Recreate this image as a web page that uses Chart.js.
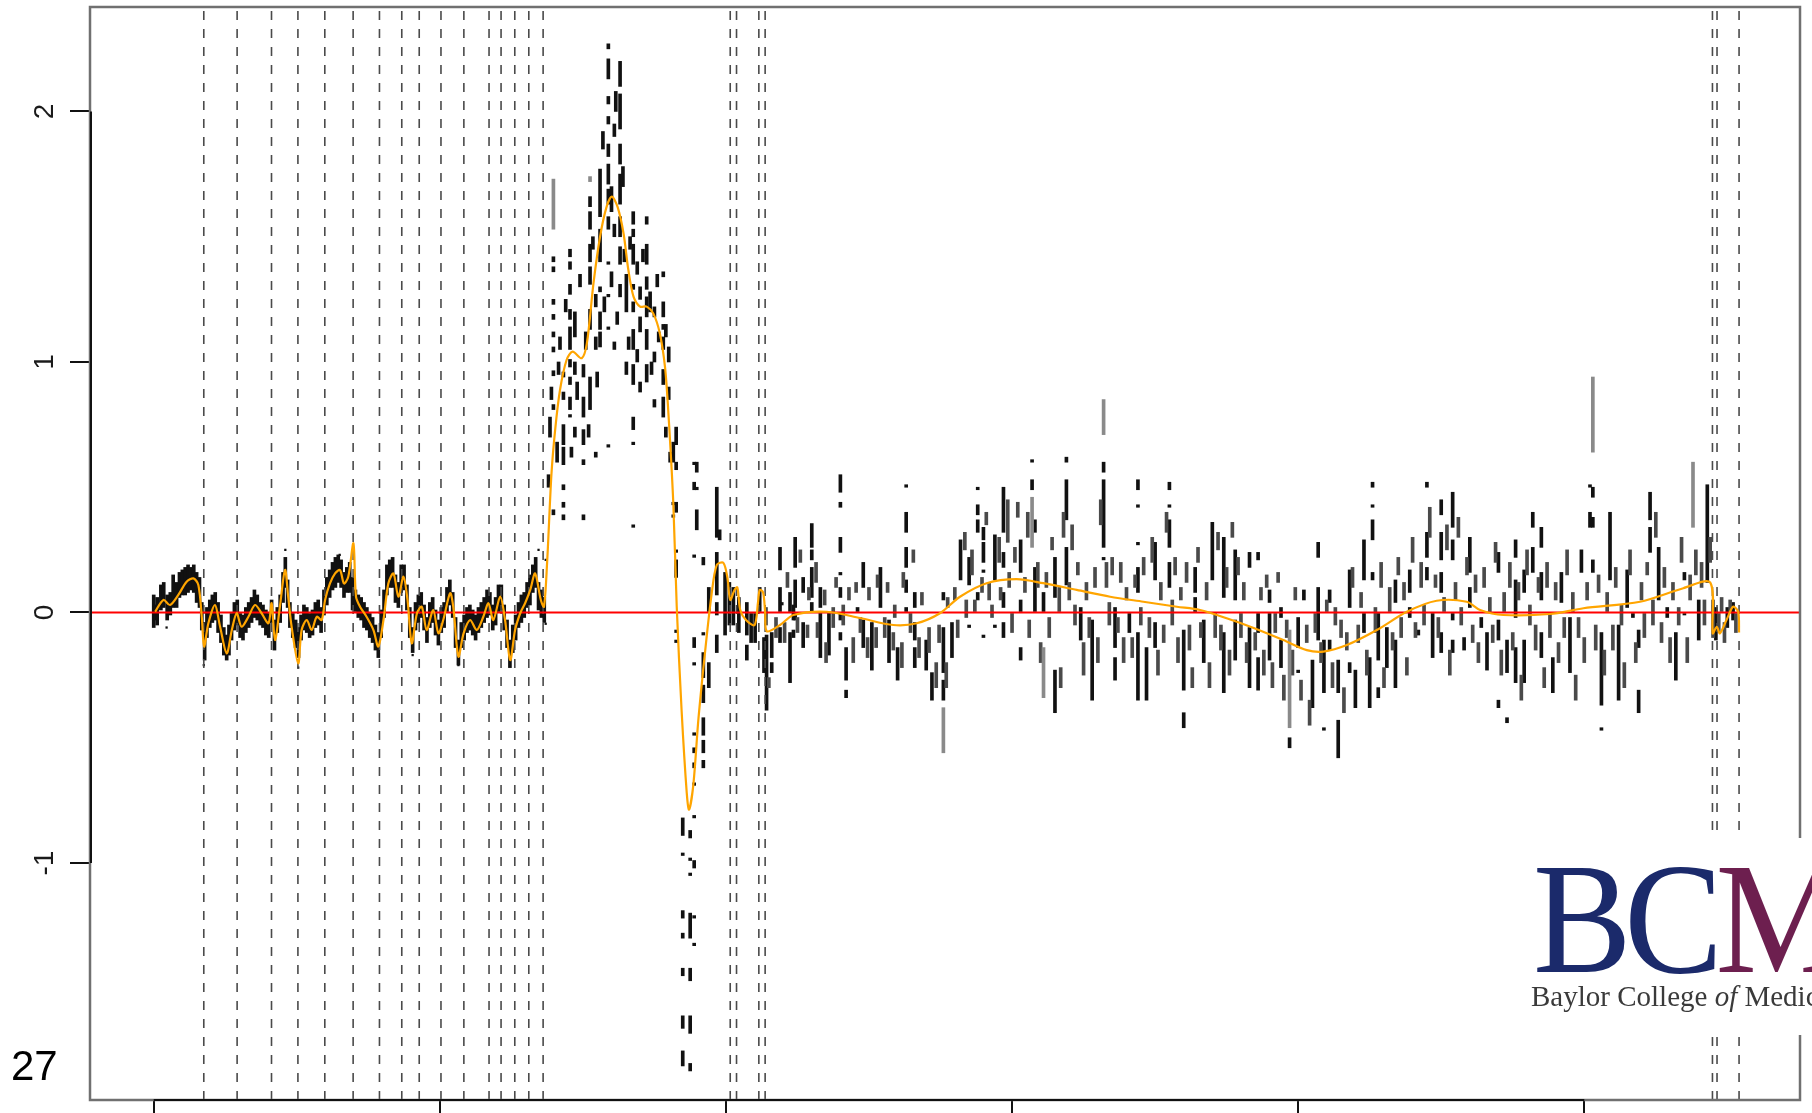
<!DOCTYPE html>
<html>
<head>
<meta charset="utf-8">
<script src="https://cdn.jsdelivr.net/npm/chart.js@4.4.1/dist/chart.umd.min.js"></script>
<style>
  html, body { margin: 0; padding: 0; background: #fff; overflow: hidden; }
  canvas { display: block; }
</style>
</head>
<body>
<canvas id="chart" width="1812" height="1113"></canvas>
<script>
// axis setup (x labels are cut off in the original, only tick marks remain)
const xTicks = [0, 1, 2, 3, 4, 5];
const yTicks = [-1, 0, 1, 2];
const xRange = [-0.2227, 5.754];
const yRange = [-1.946, 2.417];
const sideLabel = '27';

// segment boundaries (dashed lines)
const breaks = [0.175, 0.2915, 0.4117, 0.504, 0.598, 0.697, 0.789, 0.867, 0.928, 1.004,
  1.084, 1.172, 1.214, 1.262, 1.311, 1.361, 2.015, 2.037, 2.115, 2.137, 5.448, 5.464, 5.541];

// smoothed fit (orange)
const smoothFit = [
  [0.005,0.003],[0.034,0.05],[0.057,0.03],[0.086,0.07],[0.115,0.123],[0.139,0.136],[0.156,0.11],[0.168,-0.017],
  [0.176,-0.136],[0.191,-0.043],[0.214,0.03],[0.232,-0.057],[0.255,-0.163],[0.273,-0.07],[0.29,-0.003],[0.307,-0.057],
  [0.331,-0.017],[0.354,0.03],[0.377,-0.003],[0.401,-0.043],[0.412,0.037],[0.424,-0.11],[0.441,0.023],[0.459,0.17],
  [0.47,0.063],[0.482,-0.057],[0.505,-0.203],[0.517,-0.07],[0.535,-0.03],[0.552,-0.07],[0.57,-0.017],[0.587,-0.03],
  [0.599,0.05],[0.616,0.116],[0.634,0.156],[0.651,0.17],[0.665,0.116],[0.68,0.143],[0.698,0.276],[0.707,0.063],
  [0.721,0.023],[0.744,-0.017],[0.768,-0.07],[0.785,-0.136],[0.803,-0.03],[0.82,0.116],[0.838,0.156],[0.855,0.063],
  [0.873,0.143],[0.887,0.05],[0.902,-0.123],[0.92,-0.003],[0.937,0.023],[0.954,-0.07],[0.977,0.01],[0.995,-0.083],
  [1.012,-0.03],[1.036,0.077],[1.047,0.023],[1.065,-0.176],[1.083,-0.083],[1.106,-0.03],[1.129,-0.07],[1.152,-0.017],
  [1.17,0.037],[1.187,-0.03],[1.211,0.063],[1.228,-0.03],[1.246,-0.19],[1.263,-0.07],[1.281,-0.003],[1.298,0.037],
  [1.316,0.09],[1.333,0.156],[1.353,0.05],[1.364,0.023],
  [1.375,0.2],[1.39,0.55],[1.403,0.728],[1.42,0.888],[1.443,1.008],[1.464,1.041],[1.496,1.015],[1.514,1.075],
  [1.537,1.314],[1.56,1.5],[1.583,1.62],[1.601,1.66],[1.621,1.62],[1.642,1.514],[1.659,1.367],[1.677,1.261],
  [1.7,1.221],[1.723,1.221],[1.746,1.194],[1.769,1.114],[1.787,0.98],[1.799,0.794],[1.816,0.437],[1.828,0.024],
  [1.845,-0.39],[1.863,-0.72],[1.871,-0.787],[1.886,-0.688],[1.904,-0.423],[1.927,-0.158],[1.95,0.074],[1.968,0.19],
  [1.991,0.198],[2.005,0.14],[2.015,0.05],[2.03,0.09],[2.04,0.1],[2.05,0.01],[2.07,-0.03],[2.1,-0.05],
  [2.112,0.04],[2.118,0.09],[2.13,0.08],[2.137,0.0],[2.143,-0.075],
  [2.189,-0.05],[2.236,-0.01],[2.352,0.003],[2.469,-0.022],[2.585,-0.05],[2.667,-0.043],[2.748,-0.003],[2.818,0.063],
  [2.911,0.117],[3.016,0.133],[3.109,0.117],[3.226,0.09],[3.343,0.063],[3.459,0.043],[3.576,0.023],[3.657,0.01],
  [3.75,-0.023],[3.84,-0.06],[3.948,-0.11],[4.03,-0.15],[4.088,-0.156],[4.17,-0.13],[4.275,-0.07],[4.38,0.003],
  [4.484,0.047],[4.589,0.043],[4.636,0.01],[4.717,-0.01],[4.88,-0.006],[4.997,0.017],[5.195,0.043],[5.346,0.097],
  [5.44,0.12],[5.449,-0.083],[5.463,-0.057],[5.474,-0.083],[5.497,-0.03],[5.52,0.023],[5.538,0.003],[5.541,-0.08]
];

// probe clusters: [position, low, high]
const leftStreaks = [
  [0.000,-0.06,0.07],[0.006,-0.03,0.03],[0.012,-0.05,0.06],[0.025,0.01,0.11],[0.035,0.02,0.12],[0.047,-0.03,0.07],
  [0.058,-0.01,0.08],[0.068,0.02,0.15],[0.08,0.02,0.12],[0.09,0.06,0.16],[0.10,0.07,0.17],[0.11,0.07,0.18],
  [0.12,0.08,0.19],[0.13,0.09,0.18],[0.14,0.08,0.19],[0.15,0.04,0.16],[0.16,0.02,0.14],[0.168,-0.07,0.04],
  [0.178,-0.19,-0.04],[0.186,-0.10,0.02],[0.196,-0.06,0.05],[0.205,-0.04,0.07],[0.215,-0.03,0.08],[0.225,-0.08,0.04],
  [0.235,-0.12,-0.01],[0.245,-0.17,-0.06],[0.255,-0.19,-0.09],[0.263,-0.17,-0.05],[0.272,-0.11,0.0],[0.282,-0.07,0.04],
  [0.292,-0.05,0.05],[0.302,-0.10,0.0],[0.312,-0.11,-0.01],[0.322,-0.08,0.02],[0.332,-0.06,0.04],[0.342,-0.04,0.06],
  [0.352,-0.02,0.09],[0.362,-0.03,0.07],[0.372,-0.05,0.04],[0.382,-0.06,0.03],[0.392,-0.09,0.01],[0.402,-0.10,0.0],
  [0.412,-0.04,0.05],[0.422,-0.15,-0.03],[0.432,-0.08,0.02],[0.442,-0.04,0.07],[0.452,0.04,0.16],[0.46,0.10,0.22],
  [0.468,0.02,0.13],[0.476,-0.06,0.04],[0.486,-0.10,0.0],[0.496,-0.14,-0.03],[0.506,-0.18,-0.06],[0.515,-0.11,-0.01],
  [0.525,-0.07,0.03],[0.535,-0.08,0.02],[0.545,-0.10,0.0],[0.555,-0.09,0.01],[0.565,-0.06,0.04],[0.575,-0.05,0.05],
  [0.585,-0.08,0.02],[0.595,-0.01,0.09],[0.605,0.03,0.14],[0.615,0.06,0.17],[0.625,0.09,0.20],[0.635,0.10,0.22],
  [0.645,0.12,0.23],[0.655,0.10,0.21],[0.665,0.06,0.16],[0.675,0.08,0.18],[0.685,0.08,0.20],[0.695,0.01,0.14],
  [0.705,0.0,0.09],[0.715,-0.02,0.07],[0.725,-0.03,0.06],[0.735,-0.06,0.04],[0.745,-0.07,0.02],[0.755,-0.10,0.0],
  [0.765,-0.12,-0.02],[0.775,-0.15,-0.05],[0.785,-0.18,-0.08],[0.795,-0.10,0.01],[0.805,-0.02,0.09],[0.815,0.07,0.19],
  [0.825,0.10,0.21],[0.835,0.10,0.22],[0.845,0.04,0.15],[0.855,0.02,0.12],[0.865,0.08,0.19],[0.875,0.09,0.19],
  [0.885,0.01,0.11],[0.895,-0.10,0.02],[0.905,-0.16,-0.06],[0.915,-0.07,0.04],[0.925,-0.04,0.07],[0.935,-0.02,0.08],
  [0.945,-0.07,0.03],[0.955,-0.12,-0.02],[0.965,-0.06,0.04],[0.975,-0.04,0.06],[0.985,-0.09,0.01],[0.995,-0.13,-0.03],
  [1.005,-0.08,0.02],[1.015,-0.06,0.04],[1.025,0.0,0.10],[1.035,0.03,0.13],[1.045,-0.02,0.08],[1.055,-0.14,-0.02],
  [1.065,-0.21,-0.11],[1.075,-0.14,-0.04],[1.085,-0.11,-0.01],[1.095,-0.08,0.02],[1.105,-0.07,0.03],[1.115,-0.09,0.01],
  [1.125,-0.11,-0.01],[1.135,-0.08,0.02],[1.145,-0.06,0.04],[1.155,-0.04,0.06],[1.165,-0.02,0.09],[1.175,-0.01,0.08],
  [1.185,-0.07,0.03],[1.195,-0.05,0.06],[1.205,0.0,0.11],[1.215,0.01,0.11],[1.225,-0.07,0.03],[1.235,-0.14,-0.03],
  [1.245,-0.22,-0.11],[1.255,-0.16,-0.05],[1.265,-0.11,-0.01],[1.275,-0.06,0.04],[1.285,-0.04,0.07],[1.295,-0.02,0.08],
  [1.305,0.02,0.12],[1.315,0.03,0.15],[1.325,0.08,0.19],[1.335,0.10,0.22],[1.345,0.01,0.12],[1.355,-0.02,0.09],
  [1.365,-0.04,0.06]
];

const peakStreaks = [
  [1.38,0.5,0.55],[1.385,0.7,0.78],[1.39,0.85,0.9],
  [1.397,1.40,1.42],[1.397,1.36,1.38],[1.397,1.23,1.25],[1.397,1.17,1.19],[1.397,1.10,1.12],[1.397,1.04,1.06],
  [1.397,0.945,0.965],[1.397,0.81,0.83],[1.397,0.39,0.41],
  [1.41,0.6,0.68],[1.415,0.95,1.0],[1.42,1.05,1.1],
  [1.432,0.94,0.96],[1.432,0.85,0.88],[1.432,0.67,0.75],[1.432,0.59,0.66],[1.432,0.49,0.51],[1.432,0.42,0.44],[1.432,0.37,0.39],
  [1.44,1.2,1.25],
  [1.455,1.42,1.45],[1.455,1.37,1.40],[1.455,1.27,1.31],[1.455,1.17,1.21],[1.455,1.05,1.14],[1.455,0.98,1.01],
  [1.455,0.91,0.94],[1.455,0.81,0.86],[1.455,0.78,0.79],
  [1.46,0.62,0.66],[1.472,1.10,1.20],[1.472,0.95,1.0],[1.472,0.7,0.74],[1.48,0.85,0.92],[1.49,1.3,1.35],
  [1.502,0.94,0.99],[1.502,0.78,0.86],[1.502,0.67,0.73],[1.502,0.59,0.61],[1.502,0.37,0.39],
  [1.51,1.05,1.12],[1.52,0.7,0.75],
  [1.525,1.62,1.66],[1.525,1.53,1.60],[1.525,1.40,1.47],[1.525,1.31,1.38],[1.525,1.13,1.21],[1.525,0.81,0.94],
  [1.535,1.45,1.5],[1.545,1.22,1.27],[1.545,1.05,1.1],[1.545,0.62,0.64],[1.55,0.9,0.96],
  [1.56,1.58,1.77],[1.56,1.40,1.53],[1.56,1.28,1.30],[1.56,1.13,1.20],[1.56,1.06,1.12],
  [1.57,1.85,1.92],[1.575,1.2,1.26],
  [1.589,2.25,2.27],[1.589,2.13,2.21],[1.589,2.03,2.06],[1.589,1.95,1.98],[1.589,1.82,1.87],[1.589,1.71,1.79],
  [1.589,1.63,1.69],[1.589,1.53,1.58],[1.589,1.39,1.40],[1.589,1.26,1.27],[1.589,1.13,1.14],[1.589,0.66,0.67],
  [1.6,1.6,1.7],[1.6,1.3,1.36],
  [1.61,1.9,1.95],[1.61,1.5,1.55],[1.61,1.05,1.08],[1.615,2.0,2.08],[1.62,1.15,1.2],
  [1.63,2.10,2.20],[1.63,1.93,2.07],[1.63,1.79,1.87],[1.63,1.63,1.75],[1.63,1.50,1.58],[1.63,1.39,1.46],[1.63,1.26,1.31],
  [1.64,1.7,1.78],[1.645,1.4,1.45],[1.652,1.2,1.35],[1.652,0.95,1.0],[1.66,1.05,1.1],[1.665,1.45,1.5],
  [1.676,1.55,1.60],[1.676,1.50,1.53],[1.676,1.39,1.47],[1.676,1.29,1.31],[1.676,1.20,1.24],[1.676,1.05,1.13],
  [1.676,0.91,0.99],[1.676,0.73,0.78],[1.676,0.67,0.68],[1.676,0.34,0.35],
  [1.69,1.35,1.4],[1.69,1.0,1.05],
  [1.70,1.25,1.3],[1.70,1.12,1.18],[1.70,0.88,0.92],[1.71,1.4,1.45],
  [1.723,1.55,1.58],[1.723,1.39,1.47],[1.723,1.29,1.34],[1.723,1.18,1.26],[1.723,1.05,1.13],[1.723,0.92,0.99],
  [1.735,1.2,1.28],[1.74,0.95,1.0],
  [1.75,1.18,1.22],[1.75,1.0,1.04],[1.75,0.82,0.85],[1.76,1.3,1.35],[1.765,1.08,1.12],
  [1.781,1.34,1.36],[1.781,1.18,1.24],[1.781,1.13,1.15],[1.781,1.05,1.10],[1.781,0.91,0.97],[1.781,0.78,0.86],
  [1.79,1.1,1.15],[1.79,0.7,0.74],
  [1.80,1.0,1.06],[1.80,0.85,0.9],[1.805,0.6,0.64],
  [1.816,0.60,0.68],[1.816,0.43,0.44],[1.816,0.38,0.39],
  [1.826,0.67,0.74],[1.826,0.57,0.60],[1.826,0.40,0.44],[1.826,0.24,0.25],[1.826,0.14,0.21],[1.826,-0.08,-0.07],[1.826,-0.12,-0.11],
  [1.849,-0.89,-0.82],[1.849,-0.97,-0.96],[1.849,-1.22,-1.19],[1.849,-1.30,-1.28],[1.849,-1.45,-1.42],[1.849,-1.66,-1.61],[1.849,-1.81,-1.75],
  [1.875,-0.90,-0.87],[1.875,-0.99,-0.98],[1.875,-1.05,-1.04],[1.875,-1.30,-1.20],[1.875,-1.47,-1.42],[1.875,-1.68,-1.61],[1.875,-1.83,-1.80],
  [1.889,0.59,0.60],[1.889,0.49,0.52],[1.889,0.22,0.23],[1.889,-0.14,-0.10],[1.889,-0.21,-0.20],[1.889,-0.49,-0.48],
  [1.889,-0.56,-0.54],[1.889,-0.62,-0.60],[1.889,-0.69,-0.68],[1.889,-0.82,-0.81],[1.889,-1.02,-0.99],[1.889,-1.22,-1.21],[1.889,-1.33,-1.32],
  [1.898,0.56,0.60],[1.898,0.49,0.50],[1.898,0.33,0.41],
  [1.921,0.19,0.22],[1.921,-0.09,-0.08],[1.921,-0.26,-0.16],[1.921,-0.36,-0.29],[1.921,-0.49,-0.42],[1.921,-0.56,-0.51],[1.921,-0.62,-0.59],
  [1.94,-0.3,-0.2],[1.94,0.0,0.1],
  [1.968,0.30,0.50],[1.968,0.07,0.24],[1.968,-0.01,0.04],[1.968,-0.16,-0.09],[1.978,0.29,0.33],
  [1.997,-0.09,0.16],[2.012,-0.05,0.12],[2.026,-0.05,0.10],[2.045,-0.08,0.06],
  [2.073,-0.09,0.04],[2.073,-0.19,-0.13],[2.088,-0.12,0.0],[2.102,-0.12,0.0],[2.118,0.0,0.1],
  [2.142,-0.39,-0.09],[2.189,0.17,0.26],[2.189,0.0,0.10],[2.189,-0.12,-0.06],[2.236,-0.03,0.03],[2.236,-0.10,-0.07]
];

const rightStreaks = [
  [2.133,-0.24,-0.10],[2.16,-0.18,-0.08],[2.16,-0.24,-0.2],[2.195,0.03,0.04],[2.224,0.0,0.08],[2.224,-0.28,-0.08],
  [2.242,0.18,0.3],[2.242,0.02,0.13],[2.242,-0.03,0.0],[2.27,0.08,0.14],[2.27,-0.14,-0.04],
  [2.3,0.26,0.355],[2.3,0.21,0.25],[2.3,0.06,0.18],[2.3,0.0,0.04],[2.33,0.02,0.10],[2.33,-0.18,0.0],[2.36,-0.17,0.0],
  [2.4,0.48,0.55],[2.4,0.42,0.44],[2.4,0.24,0.30],[2.4,0.15,0.16],[2.4,0.06,0.10],[2.4,-0.03,0.0],[2.4,-0.11,-0.08],
  [2.42,-0.27,-0.14],[2.42,-0.34,-0.31],[2.46,0.0,0.02],[2.48,0.10,0.20],[2.48,-0.14,-0.03],[2.51,-0.23,-0.04],
  [2.54,0.02,0.18],[2.57,-0.20,-0.03],[2.6,-0.27,-0.14],
  [2.63,0.50,0.51],[2.63,0.32,0.40],[2.63,0.18,0.26],[2.63,0.08,0.13],[2.63,0.0,0.02],
  [2.66,0.02,0.08],[2.66,-0.11,-0.04],[2.66,-0.22,-0.14],[2.7,-0.23,-0.11],[2.72,-0.35,-0.24],
  [2.76,0.05,0.08],[2.76,-0.24,-0.06],[2.76,-0.35,-0.27],[2.79,-0.18,-0.04],[2.82,0.13,0.29],[2.85,0.11,0.22],[2.85,-0.06,-0.05],
  [2.88,0.49,0.50],[2.88,0.39,0.43],[2.88,0.32,0.37],[2.88,0.05,0.08],
  [2.9,0.29,0.34],[2.9,0.2,0.28],[2.9,0.16,0.17],[2.9,-0.1,-0.09],[2.94,0.13,0.31],[2.94,-0.06,-0.05],
  [2.97,0.32,0.50],[2.97,0.18,0.24],[2.97,0.02,0.08],[2.97,-0.1,-0.04],
  [3.03,0.16,0.29],[3.03,0.0,0.05],[3.03,-0.19,-0.14],[3.07,0.6,0.61],[3.07,0.49,0.53],
  [3.08,0.32,0.37],[3.08,0.0,0.18],[3.11,0.0,0.08],[3.15,0.06,0.22],[3.15,-0.4,-0.23],
  [3.19,0.6,0.62],[3.19,0.37,0.53],[3.19,0.11,0.26],[3.24,-0.11,0.02],[3.28,-0.35,-0.03],
  [3.32,0.56,0.6],[3.32,0.26,0.53],[3.32,0.21,0.22],[3.36,-0.14,0.02],[3.36,-0.27,-0.18],[3.41,-0.08,0.0],
  [3.44,0.49,0.53],[3.44,0.42,0.43],[3.44,0.27,0.28],[3.44,0.08,0.18],[3.44,-0.35,-0.08],[3.47,-0.35,-0.14],
  [3.5,0.13,0.28],[3.5,-0.14,-0.04],[3.55,0.49,0.52],[3.55,0.42,0.43],[3.55,0.26,0.37],[3.55,0.10,0.2],
  [3.6,-0.31,-0.07],[3.6,-0.46,-0.4],[3.64,0.08,0.18],[3.64,0.0,0.06],[3.67,-0.2,-0.03],[3.7,0.13,0.36],
  [3.74,0.06,0.30],[3.74,-0.32,-0.08],[3.78,0.05,0.25],[3.78,-0.19,-0.03],[3.83,0.18,0.24],[3.83,-0.30,-0.06],
  [3.86,0.21,0.24],[3.86,-0.08,0.0],[3.86,-0.31,-0.18],[3.9,0.04,0.09],[3.9,-0.19,0.0],[3.94,-0.02,0.02],[3.94,-0.22,-0.11],
  [3.97,-0.54,-0.5],[4.0,-0.14,-0.02],[4.0,-0.24,-0.23],[4.02,0.05,0.09],[4.05,-0.38,-0.19],
  [4.07,0.22,0.28],[4.07,-0.11,0.1],[4.09,-0.32,-0.11],[4.09,-0.47,-0.46],[4.11,0.04,0.09],[4.11,-0.15,-0.11],
  [4.14,-0.32,-0.19],[4.14,-0.58,-0.43],[4.18,0.02,0.17],[4.18,-0.24,-0.2],[4.2,-0.38,-0.23],
  [4.23,0.13,0.29],[4.23,-0.08,0.0],[4.25,-0.38,-0.18],[4.26,0.50,0.52],[4.26,0.42,0.43],[4.26,0.29,0.37],[4.26,0.13,0.16],
  [4.28,-0.19,0.0],[4.28,-0.34,-0.30],[4.31,-0.22,-0.06],[4.34,0.04,0.13],[4.34,-0.3,-0.11],
  [4.39,0.08,0.17],[4.39,-0.02,0.02],[4.42,-0.09,-0.07],[4.45,0.5,0.52],[4.45,0.22,0.32],[4.45,0.13,0.18],[4.47,-0.18,0.0],
  [4.5,0.39,0.45],[4.5,0.21,0.32],[4.5,0.08,0.16],[4.5,-0.16,-0.08],
  [4.54,0.34,0.48],[4.54,0.21,0.29],[4.54,-0.03,0.0],[4.54,-0.16,-0.11],[4.58,-0.15,-0.1],
  [4.6,0.16,0.3],[4.6,0.02,0.10],[4.64,-0.06,-0.02],[4.66,-0.23,-0.08],
  [4.7,0.16,0.24],[4.7,-0.11,-0.03],[4.7,-0.38,-0.35],[4.73,-0.24,-0.11],[4.73,-0.44,-0.42],
  [4.76,0.22,0.29],[4.76,-0.02,0.13],[4.76,-0.28,-0.14],[4.79,0.08,0.17],[4.79,-0.28,-0.11],
  [4.82,0.34,0.4],[4.82,0.16,0.26],[4.85,0.26,0.34],[4.85,0.05,0.16],[4.85,-0.18,-0.08],[4.89,-0.32,-0.18],
  [4.92,0.04,0.16],[4.95,-0.24,-0.02],[4.99,0.16,0.25],[5.02,0.5,0.51],[5.02,0.34,0.4],
  [5.03,0.46,0.5],[5.03,0.34,0.38],[5.03,0.16,0.21],[5.06,-0.37,-0.08],[5.06,-0.47,-0.46],
  [5.09,0.13,0.4],[5.12,-0.35,-0.05],[5.15,0.02,0.17],[5.17,-0.02,0.0],[5.19,-0.14,-0.07],[5.19,-0.4,-0.31],
  [5.23,0.37,0.48],[5.23,0.24,0.34],[5.26,0.05,0.26],[5.29,-0.02,0.02],[5.32,-0.27,-0.08],
  [5.35,0.13,0.16],[5.35,-0.01,0.0],[5.4,-0.11,0.05],[5.43,0.12,0.51],[5.46,-0.11,0.02],[5.5,-0.06,0.02],[5.52,-0.03,0.04]
];

// the denser cloud between the main columns
const rightCloud = [
  [2.14,-0.05,0.02],[2.15,-0.3,-0.26],[2.175,-0.1,-0.02],[2.205,-0.12,-0.04],[2.215,0.1,0.16],[2.25,-0.08,-0.02],
  [2.26,0.2,0.25],[2.285,-0.1,-0.05],[2.29,0.05,0.1],[2.315,0.12,0.2],[2.32,-0.1,-0.04],[2.345,0.03,0.09],
  [2.35,-0.2,-0.12],[2.375,-0.06,0.02],[2.385,0.1,0.14],[2.41,-0.05,0.03],[2.43,0.05,0.1],[2.445,-0.2,-0.1],
  [2.455,0.08,0.12],[2.47,-0.08,-0.02],[2.495,-0.18,-0.1],[2.5,0.05,0.1],[2.525,-0.14,-0.06],[2.53,0.1,0.15],
  [2.555,-0.1,-0.02],[2.565,0.08,0.12],[2.585,-0.15,-0.08],[2.59,-0.02,0.03],[2.615,-0.22,-0.12],[2.62,0.1,0.16],
  [2.645,-0.08,0.0],[2.655,0.2,0.25],[2.675,-0.18,-0.1],[2.685,0.03,0.08],[2.71,-0.16,-0.06],[2.735,-0.3,-0.2],
  [2.745,-0.12,-0.05],[2.77,-0.3,-0.2],[2.775,0.02,0.06],[2.8,0.05,0.1],[2.81,-0.1,-0.03],[2.835,0.25,0.32],
  [2.84,-0.02,0.05],[2.86,0.15,0.25],[2.87,0.0,0.05],[2.895,0.08,0.14],[2.91,0.35,0.4],[2.92,0.05,0.12],
  [2.93,-0.02,0.03],[2.955,0.2,0.3],[2.96,0.05,0.1],[2.985,0.28,0.45],[2.99,0.1,0.16],[3.0,-0.08,0.0],
  [3.01,0.2,0.26],[3.02,0.38,0.44],[3.045,0.08,0.14],[3.055,0.3,0.4],[3.06,-0.1,-0.03],[3.09,0.1,0.2],
  [3.1,-0.2,-0.12],[3.12,0.1,0.16],[3.13,-0.1,-0.02],[3.14,0.25,0.3],[3.165,0.0,0.1],[3.17,-0.3,-0.22],
  [3.18,0.3,0.4],[3.2,0.05,0.12],[3.21,0.25,0.35],[3.22,-0.05,0.03],[3.23,0.15,0.2],[3.25,-0.25,-0.12],
  [3.26,0.05,0.12],[3.27,-0.1,-0.02],[3.29,0.1,0.18],[3.3,-0.2,-0.1],[3.31,0.35,0.45],[3.33,0.1,0.2],
  [3.34,-0.05,0.04],[3.35,0.15,0.22],[3.37,-0.08,-0.02],[3.38,0.12,0.2],[3.39,-0.2,-0.1],[3.4,0.05,0.1],
  [3.42,-0.18,-0.1],[3.43,0.1,0.15],[3.45,-0.05,0.02],[3.46,0.15,0.22],[3.48,-0.1,-0.02],[3.49,0.2,0.3],
  [3.51,-0.25,-0.15],[3.52,0.05,0.12],[3.53,-0.12,-0.05],[3.54,0.32,0.4],[3.56,-0.05,0.05],[3.57,0.15,0.22],
  [3.58,-0.2,-0.1],[3.59,0.05,0.1],[3.61,0.12,0.2],[3.62,-0.15,-0.05],[3.63,-0.3,-0.22],[3.65,0.2,0.26],
  [3.66,-0.1,-0.04],[3.68,0.05,0.12],[3.69,-0.3,-0.2],[3.71,-0.1,0.0],[3.72,0.25,0.32],[3.73,-0.15,-0.05],
  [3.75,0.1,0.18],[3.76,-0.25,-0.15],[3.77,0.3,0.36],[3.79,0.15,0.22],[3.8,-0.1,0.0],[3.81,0.05,0.12],
  [3.82,-0.2,-0.12],[3.85,-0.15,-0.08],[3.87,0.05,0.1],[3.88,-0.25,-0.15],[3.89,0.1,0.15],[3.91,-0.3,-0.2],
  [3.92,-0.08,0.0],[3.93,0.12,0.16],[3.95,-0.35,-0.25],[3.96,-0.1,-0.03],[3.98,-0.25,-0.15],[3.99,0.05,0.1],
  [4.01,-0.35,-0.27],[4.03,-0.12,-0.05],[4.04,-0.45,-0.35],[4.06,-0.08,0.0],[4.08,-0.2,-0.12],[4.1,0.0,0.05],
  [4.12,-0.3,-0.2],[4.13,-0.05,0.02],[4.15,-0.1,-0.03],[4.16,-0.4,-0.3],[4.17,-0.15,-0.08],[4.19,0.1,0.18],
  [4.21,-0.12,-0.05],[4.22,0.02,0.08],[4.24,-0.25,-0.15],[4.27,-0.08,0.02],[4.29,0.1,0.2],[4.3,-0.3,-0.22],
  [4.32,0.0,0.1],[4.33,-0.15,-0.08],[4.35,0.15,0.22],[4.36,-0.1,-0.02],[4.37,0.05,0.12],[4.38,-0.25,-0.18],
  [4.4,0.2,0.3],[4.41,-0.1,-0.04],[4.43,0.1,0.2],[4.44,-0.05,0.03],[4.46,0.3,0.42],[4.48,0.1,0.15],
  [4.49,-0.1,-0.02],[4.51,0.0,0.06],[4.52,0.25,0.35],[4.53,-0.25,-0.15],[4.55,0.05,0.12],[4.56,0.3,0.38],
  [4.57,-0.05,0.02],[4.59,0.15,0.22],[4.61,-0.12,-0.05],[4.62,0.08,0.15],[4.63,-0.2,-0.12],[4.65,0.1,0.18],
  [4.67,0.0,0.06],[4.68,-0.12,-0.05],[4.69,0.2,0.28],[4.71,-0.25,-0.15],[4.72,0.0,0.08],[4.74,0.1,0.2],
  [4.75,-0.15,-0.08],[4.77,0.05,0.12],[4.78,-0.35,-0.25],[4.8,0.15,0.25],[4.81,-0.05,0.03],[4.83,-0.15,-0.05],
  [4.84,0.08,0.14],[4.86,-0.3,-0.22],[4.87,0.1,0.2],[4.88,-0.1,0.0],[4.9,0.05,0.12],[4.91,-0.2,-0.12],
  [4.93,-0.1,-0.02],[4.94,0.15,0.25],[4.96,0.0,0.08],[4.97,-0.35,-0.25],[4.98,-0.1,-0.02],[5.0,-0.2,-0.1],
  [5.01,0.05,0.12],[5.04,-0.15,-0.05],[5.05,0.08,0.15],[5.07,-0.25,-0.15],[5.08,0.0,0.08],[5.1,-0.15,-0.05],
  [5.11,0.1,0.18],[5.13,-0.05,0.03],[5.14,-0.3,-0.2],[5.16,0.15,0.25],[5.18,-0.2,-0.12],[5.2,0.05,0.12],
  [5.21,-0.1,0.0],[5.22,0.15,0.2],[5.24,-0.05,0.05],[5.25,0.3,0.4],[5.27,-0.12,-0.04],[5.28,0.1,0.18],
  [5.3,-0.2,-0.1],[5.31,0.05,0.12],[5.33,-0.05,0.02],[5.34,0.2,0.3],[5.36,-0.2,-0.1],[5.37,0.05,0.15],
  [5.39,0.15,0.25],[5.41,0.1,0.2],[5.42,-0.05,0.05],[5.44,0.2,0.3],[5.45,-0.1,0.05],[5.47,-0.08,0.0],
  [5.48,0.0,0.06],[5.49,-0.12,-0.04],[5.51,0.0,0.05],[5.53,-0.08,0.0]
];

// sparse, lighter columns
const faintStreaks = [
  [1.397,1.53,1.73],[1.525,1.72,1.74],[2.76,-0.56,-0.38],[3.07,0.26,0.46],[3.11,-0.34,-0.14],
  [3.32,0.71,0.85],[3.97,-0.46,-0.07],[5.03,0.64,0.94],[5.38,0.34,0.6]
];

// isolated probes
const loneProbes = [
  [0.175,-0.21],[0.46,0.25],[0.505,-0.22],[0.65,0.23],[0.905,-0.17],[1.065,-0.21],[1.345,0.25],
  [1.37,0.21],[1.37,-0.045],[0.045,-0.06]
];

function toBars(list) {
  return list.map(s => ({ x: s[0], y: [s[1], s[2]] }));
}

function breakLines(list) {
  const pts = [];
  list.forEach(b => {
    pts.push({ x: b, y: yRange[0] }, { x: b, y: yRange[1] }, { x: b, y: null });
  });
  return pts;
}

const decor = {
  id: 'decor',
  afterDraw(chart) {
    const { ctx, chartArea: a, scales } = chart;
    const sx = scales.x, sy = scales.y;
    ctx.save();
    // plot box
    ctx.strokeStyle = '#707070';
    ctx.lineWidth = 2.5;
    ctx.strokeRect(a.left, a.top, a.right - a.left, a.bottom - a.top);
    // axis lines between first and last tick
    ctx.strokeStyle = '#111';
    ctx.lineWidth = 2;
    ctx.beginPath();
    ctx.moveTo(a.left + 1, sy.getPixelForValue(yTicks[0]));
    ctx.lineTo(a.left + 1, sy.getPixelForValue(yTicks[yTicks.length - 1]));
    ctx.moveTo(sx.getPixelForValue(xTicks[0]), a.bottom);
    ctx.lineTo(sx.getPixelForValue(xTicks[xTicks.length - 1]), a.bottom);
    ctx.stroke();
    // rotated y labels
    ctx.fillStyle = '#1a1a1a';
    ctx.font = '28px "Liberation Sans", Arial, sans-serif';
    ctx.textAlign = 'center';
    ctx.textBaseline = 'alphabetic';
    yTicks.forEach(v => {
      ctx.save();
      ctx.translate(53, sy.getPixelForValue(v));
      ctx.rotate(-Math.PI / 2);
      ctx.fillText(String(v), 0, 0);
      ctx.restore();
    });
    // side label
    ctx.textAlign = 'left';
    ctx.font = '42px "Liberation Sans", Arial, sans-serif';
    ctx.fillStyle = '#000';
    ctx.fillText(sideLabel, 11, 1080);
    // logo
    ctx.fillStyle = '#fff';
    ctx.fillRect(1515, 838, 300, 197);
    ctx.save();
    ctx.translate(1533, 972);
    ctx.scale(0.93, 1);
    ctx.font = '159px "Liberation Serif", "Times New Roman", serif';
    ctx.letterSpacing = '-8px';
    ctx.fillStyle = '#1b2a6b';
    ctx.fillText('BC', 0, 0);
    const w = ctx.measureText('BC').width;
    ctx.fillStyle = '#6d1f4f';
    ctx.fillText('M', w, 0);
    ctx.restore();
    ctx.fillStyle = '#3a3a3a';
    const serif = '"Liberation Serif", "Times New Roman", serif';
    ctx.font = '29px ' + serif;
    let tx = 1531;
    ctx.fillText('Baylor College ', tx, 1006);
    tx += ctx.measureText('Baylor College ').width;
    ctx.font = 'italic 29px ' + serif;
    ctx.fillText('of', tx, 1006);
    tx += ctx.measureText('of').width;
    ctx.font = '29px ' + serif;
    ctx.fillText(' Medicine', tx, 1006);
    ctx.restore();
  }
};

new Chart(document.getElementById('chart'), {
  type: 'scatter',
  data: {
    datasets: [
      {
        type: 'line', label: 'fit', order: 0,
        data: smoothFit.map(p => ({ x: p[0], y: p[1] })),
        borderColor: '#ffa500', borderWidth: 2.2, pointRadius: 0, tension: 0.3, fill: false
      },
      {
        type: 'line', label: 'zero', order: 1,
        data: [{ x: xRange[0], y: 0 }, { x: xRange[1], y: 0 }],
        borderColor: '#ff0000', borderWidth: 2, pointRadius: 0
      },
      {
        type: 'line', label: 'breaks', order: 2,
        data: breakLines(breaks),
        borderColor: '#4a4a4a', borderWidth: 1.6, borderDash: [9, 9], pointRadius: 0, spanGaps: false
      },
      {
        type: 'scatter', label: 'lone', order: 3,
        data: loneProbes.map(p => ({ x: p[0], y: p[1] })),
        pointStyle: 'rect', pointRadius: 1.6, backgroundColor: '#111', borderWidth: 0
      },
      {
        type: 'bar', label: 'faint', order: 4, grouped: false,
        data: toBars(faintStreaks),
        backgroundColor: '#8a8a8a', barThickness: 3
      },
      {
        type: 'bar', label: 'cloud', order: 5, grouped: false,
        data: toBars(rightCloud),
        backgroundColor: '#4a4a4a', barThickness: 3
      },
      {
        type: 'bar', label: 'probes', order: 6, grouped: false,
        data: toBars(leftStreaks.concat(peakStreaks, rightStreaks)),
        backgroundColor: '#111', barThickness: 3
      }
    ]
  },
  options: {
    responsive: false,
    animation: false,
    events: [],
    layout: { padding: { top: 7, right: 12, left: 0, bottom: 0 } },
    plugins: { legend: { display: false }, tooltip: { enabled: false }, title: { display: false } },
    scales: {
      x: {
        type: 'linear', min: xRange[0], max: xRange[1], offset: false,
        afterFit: s => { s.height = 13; },
        afterBuildTicks: s => { s.ticks = xTicks.map(v => ({ value: v })); },
        ticks: { display: false },
        grid: { drawOnChartArea: false, offset: false, color: '#111', lineWidth: 2, tickLength: 20 },
        border: { display: false }
      },
      y: {
        type: 'linear', min: yRange[0], max: yRange[1],
        afterFit: s => { s.width = 90; },
        afterBuildTicks: s => { s.ticks = yTicks.map(v => ({ value: v })); },
        ticks: { display: false },
        grid: { drawOnChartArea: false, color: '#111', lineWidth: 2, tickLength: 20 },
        border: { display: false }
      }
    }
  },
  plugins: [decor]
});
</script>
</body>
</html>
